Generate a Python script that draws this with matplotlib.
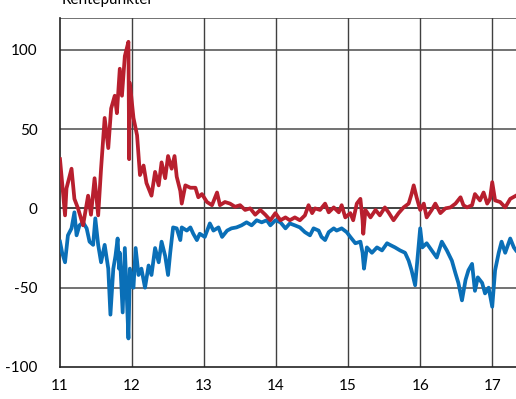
import matplotlib
matplotlib.use("Agg")
import matplotlib.pyplot as plt

# Red series: (axis position, basis points)
red_points = [
    (11.00, 31), (11.07, -4.4), (11.09, 12.6), (11.16, 25), (11.20, 6), (11.25, 0),
    (11.32, -10.7), (11.39, 8), (11.43, -4), (11.48, 19), (11.53, -4.4), (11.57, 25),
    (11.62, 57), (11.67, 38), (11.71, 63), (11.76, 71), (11.79, 60), (11.83, 88),
    (11.86, 71), (11.90, 96), (11.95, 105), (11.96, 31), (11.97, 79), (12.02, 57),
    (12.07, 46), (12.11, 21), (12.16, 27), (12.20, 16), (12.27, 8), (12.32, 23),
    (12.37, 14.5), (12.41, 29), (12.46, 19), (12.50, 33), (12.55, 25), (12.59, 33),
    (12.62, 20), (12.67, 11), (12.69, 3), (12.74, 14.5), (12.81, 13), (12.88, 13),
    (12.92, 7), (12.97, 9), (13.04, 4), (13.11, 2), (13.18, 10), (13.22, 2),
    (13.29, 4), (13.36, 3), (13.43, 1), (13.50, 2), (13.57, -1), (13.64, 0),
    (13.71, -4), (13.78, -1), (13.85, -4), (13.92, -7.5), (13.99, -3), (14.06, -7.5),
    (14.13, -5.7), (14.19, -7.5), (14.26, -5.7), (14.33, -7.5), (14.40, -4.4), (14.45, 2),
    (14.50, -3), (14.54, 0), (14.61, -1), (14.68, 3), (14.73, -2.5), (14.80, 0.6),
    (14.87, -2.5), (14.91, 2), (14.96, -5.7), (15.03, -3), (15.07, -7.5), (15.12, 3),
    (15.17, 6), (15.20, -7.5), (15.21, -16), (15.24, -1), (15.31, -5.7), (15.38, -1),
    (15.44, -4.4), (15.51, 0.6), (15.56, -2.5), (15.63, -7.5), (15.70, -3), (15.77, 0.6),
    (15.84, 3), (15.88, 9), (15.91, 14.5), (15.95, 7), (16.00, -1), (16.05, 3),
    (16.09, -5.7), (16.16, -1), (16.21, 3), (16.28, -3), (16.35, 0), (16.42, 0.6),
    (16.49, 3), (16.56, 7), (16.60, 2), (16.65, 0.6), (16.72, 2), (16.76, 9),
    (16.83, 5), (16.88, 10), (16.93, 3), (16.97, 6), (17.00, 16.5), (17.04, 5),
    (17.11, 4), (17.18, 0.6), (17.25, 6), (17.33, 8),
]

# Blue series: (axis position, basis points)
blue_points = [
    (11.00, -21), (11.03, -28), (11.07, -34), (11.11, -17), (11.16, -12.6), (11.20, -2.5),
    (11.23, -17), (11.27, -10.7), (11.32, -8.8), (11.37, -12.6), (11.41, -21), (11.46, -23),
    (11.49, -6.3), (11.53, -23), (11.57, -34), (11.62, -23), (11.67, -38), (11.70, -67),
    (11.74, -38), (11.77, -30), (11.80, -19), (11.82, -38), (11.83, -28), (11.87, -65.6),
    (11.90, -25), (11.93, -59), (11.95, -82), (11.97, -38), (12.02, -50), (12.05, -25),
    (12.09, -42), (12.13, -38), (12.18, -50), (12.23, -36), (12.27, -42), (12.32, -25),
    (12.37, -34), (12.41, -21), (12.46, -30), (12.50, -42), (12.53, -28), (12.57, -12),
    (12.62, -12.6), (12.67, -20), (12.69, -12), (12.76, -14), (12.81, -12), (12.85, -16),
    (12.90, -20), (12.94, -16), (13.01, -18), (13.08, -9.5), (13.13, -14), (13.20, -12),
    (13.25, -18), (13.32, -14), (13.38, -12.6), (13.45, -12), (13.52, -10.7), (13.59, -8.8),
    (13.66, -10.7), (13.73, -7.5), (13.80, -8.8), (13.87, -7.5), (13.92, -10.7), (13.99, -7.5),
    (14.06, -8.8), (14.13, -12.6), (14.19, -9.5), (14.26, -10.7), (14.33, -12), (14.40, -15),
    (14.47, -17), (14.52, -12.6), (14.59, -14), (14.63, -18), (14.68, -20), (14.73, -15),
    (14.80, -12.6), (14.84, -14), (14.91, -12.6), (14.98, -15), (15.03, -18), (15.10, -22),
    (15.17, -21), (15.20, -28), (15.22, -38), (15.26, -24.6), (15.33, -28), (15.40, -24.6),
    (15.47, -26.5), (15.54, -22), (15.58, -23), (15.65, -24.6), (15.72, -26.5), (15.79, -28),
    (15.84, -33), (15.88, -39), (15.93, -48.5), (15.96, -33), (16.00, -12.6), (16.03, -24.6),
    (16.09, -22), (16.16, -26.5), (16.23, -31), (16.30, -21), (16.37, -26.5), (16.44, -33),
    (16.49, -41), (16.53, -47), (16.58, -58), (16.63, -45), (16.67, -39), (16.72, -35),
    (16.76, -52), (16.80, -43.5), (16.86, -47), (16.90, -53.6), (16.95, -50), (17.00, -62),
    (17.04, -39), (17.09, -28), (17.13, -21), (17.18, -28), (17.25, -19), (17.30, -24.6),
    (17.33, -26.5),
]

red_x, red_y = zip(*red_points)
blue_x, blue_y = zip(*blue_points)

yticks = [-100, -50, 0, 50, 100]
xticks = [11, 12, 13, 14, 15, 16, 17]
title = "Rentepunkter"

plt.rcParams['font.family'] = ['Lato', 'DejaVu Sans']

fig = plt.figure(figsize=(5.16, 3.99), dpi=100)
ax = fig.add_axes([60/516, 1 - 367/399, 1 - 60/516, (367 - 18)/399])

ax.set_xlim(11, 17.33)
ax.set_ylim(-100, 120)

gcol = '#5a5a5a'
for yv in [50, 100, 120, -50]:
    ax.axhline(yv, color=gcol, lw=1.2, zorder=1)
ax.axhline(0, color='#222222', lw=1.2, zorder=1)
for xv in xticks[1:]:
    ax.axvline(xv, color='#404040', lw=1.0, zorder=1)

ax.plot(blue_x, blue_y, color='#0A6FB7', lw=2.7, zorder=3, solid_joinstyle='round')
ax.plot(red_x, red_y, color='#B81F2E', lw=2.7, zorder=4, solid_joinstyle='round')

for s in ['top', 'right']:
    ax.spines[s].set_visible(False)
ax.spines['left'].set_color('#222222')
ax.spines['bottom'].set_color('#222222')
ax.spines['left'].set_linewidth(1.2)
ax.spines['bottom'].set_linewidth(1.2)

ax.set_xticks(xticks)
ax.set_yticks(yticks)
ax.set_xticklabels([str(v) for v in xticks])
ax.set_yticklabels([str(v) for v in yticks])
ax.tick_params(axis='both', length=0, labelsize=11, colors='black')
ax.tick_params(axis='y', pad=16)
ax.tick_params(axis='x', pad=9)

fig.text(107.5/516, 1 - 4/399, title, ha='center', va='baseline', fontsize=11)

fig.savefig('out.png', dpi=100)
